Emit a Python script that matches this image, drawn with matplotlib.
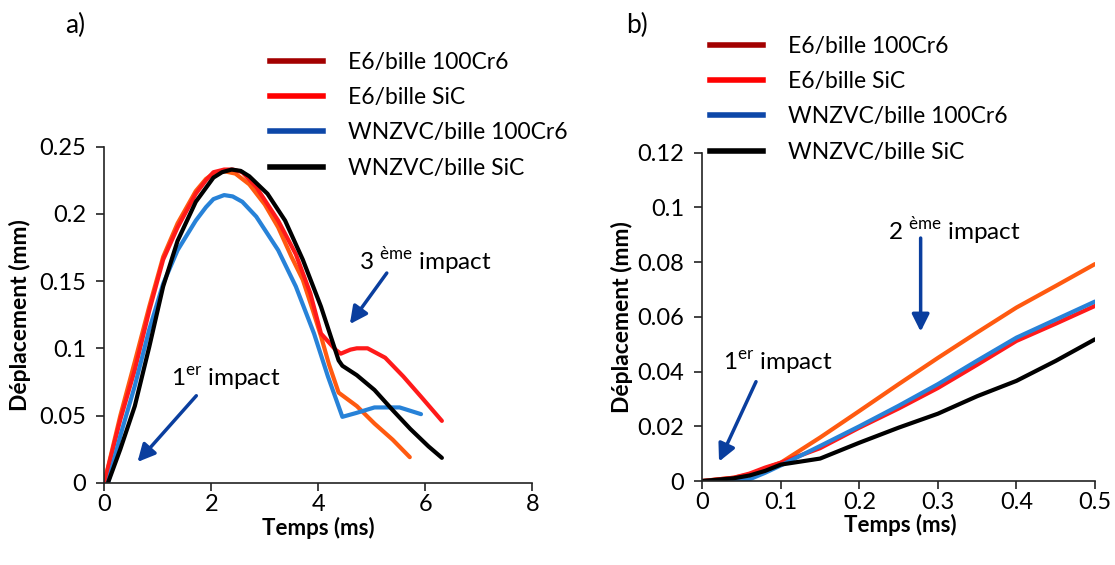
import matplotlib
matplotlib.use("Agg")
import matplotlib.pyplot as plt
from matplotlib.lines import Line2D

plt.rcParams['font.family'] = ['Lato', 'DejaVu Sans']
plt.rcParams['mathtext.fontset'] = 'custom'
plt.rcParams['mathtext.rm'] = 'Lato'

W, H = 1115, 565

# legend (same for both panels)
legend_labels = ["E6/bille 100Cr6", "E6/bille SiC", "WNZVC/bille 100Cr6", "WNZVC/bille SiC"]
legend_colors = ["#A30000", "#FF0000", "#0D47A8", "#000000"]
curve_colors = ["#FF5A10", "#FF1A1A", "#2782D8", "#000000"]

# panel a) : full history (ms, mm)
a_t_e6_cr6 = [0, 0.3, 0.57, 0.84, 1.1, 1.37, 1.71, 1.9, 2.04, 2.21, 2.45, 2.71, 3.0, 3.25, 3.5,
              3.71, 3.9, 4.05, 4.2, 4.38, 4.72, 5.05, 5.39, 5.71]
a_d_e6_cr6 = [0, 0.05, 0.09, 0.131, 0.168, 0.193, 0.217, 0.226, 0.23, 0.232, 0.23, 0.222, 0.207,
              0.19, 0.168, 0.151, 0.128, 0.109, 0.088, 0.067, 0.057, 0.044, 0.032, 0.019]
a_t_e6_sic = [0, 0.3, 0.57, 0.84, 1.1, 1.37, 1.71, 1.9, 2.04, 2.24, 2.4, 2.58, 2.84, 3.25, 3.58,
              3.85, 4.05, 4.32, 4.42, 4.6, 4.72, 4.92, 5.25, 5.59, 5.92, 6.31]
a_d_e6_sic = [0, 0.047, 0.084, 0.128, 0.166, 0.19, 0.215, 0.225, 0.231, 0.233, 0.233, 0.231,
              0.22, 0.195, 0.17, 0.141, 0.111, 0.099, 0.096, 0.099, 0.1, 0.1, 0.093, 0.079,
              0.064, 0.046]
a_t_wn_cr6 = [0.07, 0.3, 0.57, 0.84, 1.1, 1.37, 1.71, 1.9, 2.04, 2.24, 2.4, 2.58, 2.84, 3.25,
              3.58, 3.92, 4.18, 4.45, 4.72, 5.05, 5.52, 5.92]
a_d_wn_cr6 = [0, 0.035, 0.072, 0.114, 0.148, 0.173, 0.195, 0.205, 0.211, 0.214, 0.213, 0.209,
              0.198, 0.173, 0.146, 0.111, 0.079, 0.049, 0.052, 0.056, 0.056, 0.051]
a_t_wn_sic = [0.07, 0.3, 0.57, 0.84, 1.1, 1.37, 1.71, 2.04, 2.2, 2.38, 2.55, 2.71, 3.05, 3.38,
              3.71, 4.05, 4.38, 4.45, 4.72, 5.05, 5.39, 5.72, 6.06, 6.31]
a_d_wn_sic = [0, 0.025, 0.057, 0.101, 0.146, 0.18, 0.209, 0.227, 0.231, 0.233, 0.232, 0.228,
              0.215, 0.195, 0.166, 0.131, 0.091, 0.087, 0.08, 0.069, 0.054, 0.04, 0.027, 0.0185]

# panel b) : first 0.5 ms
b_t = [0, 0.04, 0.06, 0.08, 0.1, 0.15, 0.2, 0.25, 0.3, 0.35, 0.4, 0.45, 0.5]
b_d_e6_cr6 = [0, 0.0012, 0.0024, 0.0046, 0.0067, 0.0159, 0.0256, 0.0354, 0.045, 0.0543,
              0.0634, 0.0713, 0.0793]
b_d_e6_sic = [0, 0.0012, 0.0027, 0.0049, 0.0067, 0.012, 0.0195, 0.0265, 0.034, 0.0425,
              0.0512, 0.0575, 0.064]
b_d_wn_cr6 = [0, 0, 0.0006, 0.003, 0.0057, 0.0128, 0.02, 0.0275, 0.0354, 0.044, 0.0524,
              0.059, 0.0656]
b_d_wn_sic = [0, 0.001, 0.002, 0.0037, 0.006, 0.0082, 0.014, 0.0195, 0.0246, 0.031, 0.0366,
              0.0439, 0.0518]

a_xticks = [0, 2, 4, 6, 8]
a_yticks = [0, 0.05, 0.1, 0.15, 0.2, 0.25]
a_ylabels = ["0", "0.05", "0.1", "0.15", "0.2", "0.25"]
b_xticks = [0, 0.1, 0.2, 0.3, 0.4, 0.5]
b_xlabels = ["0", "0.1", "0.2", "0.3", "0.4", "0.5"]
b_yticks = [0, 0.02, 0.04, 0.06, 0.08, 0.1, 0.12]
b_ylabels = ["0", "0.02", "0.04", "0.06", "0.08", "0.1", "0.12"]

ARROW = "#0A3E9E"


def px(x, y):
    return x / W, 1 - y / H


def style_axes(ax, xticks, xlabels, yticks, ylabels, xlab_pos, ylab_pos):
    for s in ("top", "right"):
        ax.spines[s].set_visible(False)
    for s in ("left", "bottom"):
        ax.spines[s].set_color("#222222")
        ax.spines[s].set_linewidth(1.2)
    ax.set_xticks(xticks, xlabels)
    ax.set_yticks(yticks, ylabels)
    ax.tick_params(direction="out", length=6, width=1.2, color="#222222", labelsize=17)
    ax.tick_params(axis="x", pad=2)
    ax.tick_params(axis="y", pad=7)
    ax.set_xlabel("Temps (ms)", fontsize=16, fontweight="bold", va="center")
    ax.set_ylabel("Déplacement (mm)", fontsize=16.5, fontweight="bold", va="center")
    ax.xaxis.set_label_coords(*xlab_pos)
    ax.yaxis.set_label_coords(*ylab_pos)


def add_legend(anchor):
    handles = [Line2D([], [], color=c, lw=4) for c in legend_colors]
    fig.legend(handles, legend_labels, loc="upper left", bbox_to_anchor=px(*anchor),
               frameon=False, fontsize=16.5, handlelength=2.3, handletextpad=1.1,
               labelspacing=0.62, borderpad=0, borderaxespad=0)


fig = plt.figure(figsize=(W / 100, H / 100), dpi=100)
ax1 = fig.add_axes([104.3 / W, 1 - 482.7 / H, 428 / W, 336 / H])
ax2 = fig.add_axes([702.3 / W, 1 - 481 / H, 392.7 / W, 328.3 / H])

for t, d, c in zip([a_t_e6_cr6, a_t_e6_sic, a_t_wn_cr6, a_t_wn_sic],
                   [a_d_e6_cr6, a_d_e6_sic, a_d_wn_cr6, a_d_wn_sic], curve_colors):
    ax1.plot(t, d, color=c, lw=3, solid_capstyle="round", solid_joinstyle="round")
for d, c in zip([b_d_e6_cr6, b_d_e6_sic, b_d_wn_cr6, b_d_wn_sic], curve_colors):
    ax2.plot(b_t, d, color=c, lw=3, solid_capstyle="round", solid_joinstyle="round")

ax1.set_xlim(0, 8)
ax1.set_ylim(0, 0.25)
ax2.set_xlim(0, 0.5)
ax2.set_ylim(0, 0.12)
style_axes(ax1, a_xticks, [str(v) for v in a_xticks], a_yticks, a_ylabels,
           (0.499, -0.135), (-0.197, 0.5))
style_axes(ax2, b_xticks, b_xlabels, b_yticks, b_ylabels,
           (0.503, -0.135), (-0.205, 0.5))

add_legend((270, 52))
add_legend((710, 36))

fig.text(*px(75, 25), "a)", fontsize=19, ha="center", va="center")
fig.text(*px(637, 25), "b)", fontsize=19, ha="center", va="center")

# annotations
arrow = dict(arrowstyle="-|>", color=ARROW, lw=2.5, mutation_scale=26, shrinkA=0, shrinkB=0)
ax1.annotate("", xy=(0.62, 0.0154), xytext=(1.72, 0.0647), arrowprops=arrow)
ax1.annotate("", xy=(4.59, 0.118), xytext=(5.28, 0.156), arrowprops=arrow)
ax2.annotate("", xy=(0.278, 0.0546), xytext=(0.278, 0.0888), arrowprops=arrow)
ax2.annotate("", xy=(0.0213, 0.0071), xytext=(0.0684, 0.0363), arrowprops=arrow)

fig.text(*px(171, 379), r"1$^{\mathregular{er}}$ impact", fontsize=17.5, ha="left", va="center")
fig.text(*px(359, 261), r"3 $^{\mathregular{ème}}$ impact", fontsize=17.5, ha="left", va="center")
fig.text(*px(888, 231), r"2 $^{\mathregular{ème}}$ impact", fontsize=17.5, ha="left", va="center")
fig.text(*px(723, 363), r"1$^{\mathregular{er}}$ impact", fontsize=17.5, ha="left", va="center")

fig.savefig("out.png", dpi=100)
